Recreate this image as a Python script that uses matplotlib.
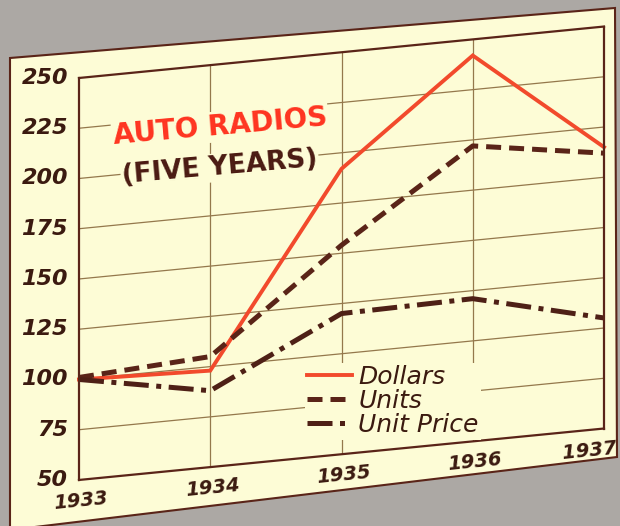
import numpy as np
import matplotlib
matplotlib.use('Agg')
import matplotlib.pyplot as plt
from matplotlib.transforms import Affine2D
from matplotlib.patches import Polygon
from mpl_toolkits.axisartist import floating_axes
from mpl_toolkits.axisartist.grid_finder import FixedLocator, DictFormatter

# data (index, 1933 = 100)
years = [1933, 1934, 1935, 1936, 1937]
dollars = [100, 98, 192, 242, 190]
units = [101, 105, 154, 197, 187]
unit_price = [100, 88, 120, 121, 105]
yticks = [50, 75, 100, 125, 150, 175, 200, 225, 250]
year_labels = ['1933', '1934', '1935', '1936', '1937     ']

BROWN = '#5a2418'
RED = '#f24a2c'
CREAM = '#fdfcd6'
GRID = '#94784c'

# the photo is taken at an angle: shear the chart so lines rise to the right
k = 6.4
tr = Affine2D(np.array([[1.0, 0.0, -1933.0],
                        [k, 1.0, -k * 1933.0],
                        [0.0, 0.0, 1.0]]))

grid_helper = floating_axes.GridHelperCurveLinear(
    tr, extremes=(1933, 1937, 50, 250),
    grid_locator1=FixedLocator(years),
    grid_locator2=FixedLocator(yticks),
    tick_formatter1=DictFormatter(dict(zip(years, year_labels))),
    tick_formatter2=DictFormatter({v: str(v) for v in yticks}))

W, H = 620, 526
fig = plt.figure(figsize=(W / 100, H / 100), dpi=100)
fig.patch.set_facecolor('#aca8a4')

# paper sheet
paper = [(10, 58), (615, 8), (617, 457), (10, 530)]
fig.patches.append(Polygon([(x / W, 1 - y / H) for x, y in paper],
                           closed=True, transform=fig.transFigure,
                           facecolor=CREAM, edgecolor=BROWN, linewidth=1.5,
                           zorder=-1))

l, r, t, b = 73.75, 609.25, 22.0, 484.5
ax = fig.add_axes([l / W, 1 - b / H, (r - l) / W, (b - t) / H],
                  axes_class=floating_axes.FloatingAxes,
                  grid_helper=grid_helper)
ax.set_aspect('auto')
ax.patch.set_facecolor(CREAM)
aux = ax.get_aux_axes(tr)

ax.grid(True, color=GRID, linewidth=0.9)

for side in ['left', 'right', 'top', 'bottom']:
    ax.axis[side].line.set_color(BROWN)
    ax.axis[side].line.set_linewidth(1.6)
    ax.axis[side].major_ticks.set_ticksize(0)
for side in ['right', 'top']:
    ax.axis[side].toggle(ticklabels=False, ticks=False)
for side, size, pad in [('left', 16, 8), ('bottom', 14, 9)]:
    lab = ax.axis[side].major_ticklabels
    lab.set_fontsize(size)
    lab.set_fontweight('bold')
    lab.set_fontstyle('italic')
    lab.set_color('#3b1a10')
    lab.set_pad(pad)

aux.plot(years, dollars, color=RED, linewidth=2.8, label='Dollars',
         solid_joinstyle='miter')
aux.plot(years, units, color=BROWN, linewidth=3.6,
         linestyle=(0, (3, 1.6)), label='Units')
aux.plot(years, unit_price, color='#4e2016', linewidth=3.6,
         linestyle=(0, (5, 1.5, 1, 1.5)), label='Unit Price')

fig.text(113 / W, 1 - 136 / H, 'AUTO RADIOS', color='#ff3420', fontsize=20,
         fontweight='bold', rotation=5, rotation_mode='anchor',
         ha='left', va='center',
         bbox=dict(facecolor=CREAM, edgecolor='none', pad=1))
fig.text(122 / W, 1 - 176 / H, '(FIVE YEARS)', color='#4a1a12', fontsize=19,
         fontweight='bold', rotation=5, rotation_mode='anchor',
         ha='left', va='center',
         bbox=dict(facecolor=CREAM, edgecolor='none', pad=1))

handles, labels = aux.get_legend_handles_labels()
leg = fig.legend(handles, labels, loc='upper left',
                 bbox_to_anchor=(292 / W, 1 - 350 / H),
                 bbox_transform=fig.transFigure,
                 prop=dict(size=18, style='italic'),
                 labelcolor='#3b1a10', handlelength=1.8, handletextpad=0.25,
                 labelspacing=0.0, borderpad=0.1, frameon=True,
                 facecolor=CREAM, edgecolor='none', framealpha=1,
                 fancybox=False)

plt.savefig('out.png', dpi=100, facecolor=fig.get_facecolor())
